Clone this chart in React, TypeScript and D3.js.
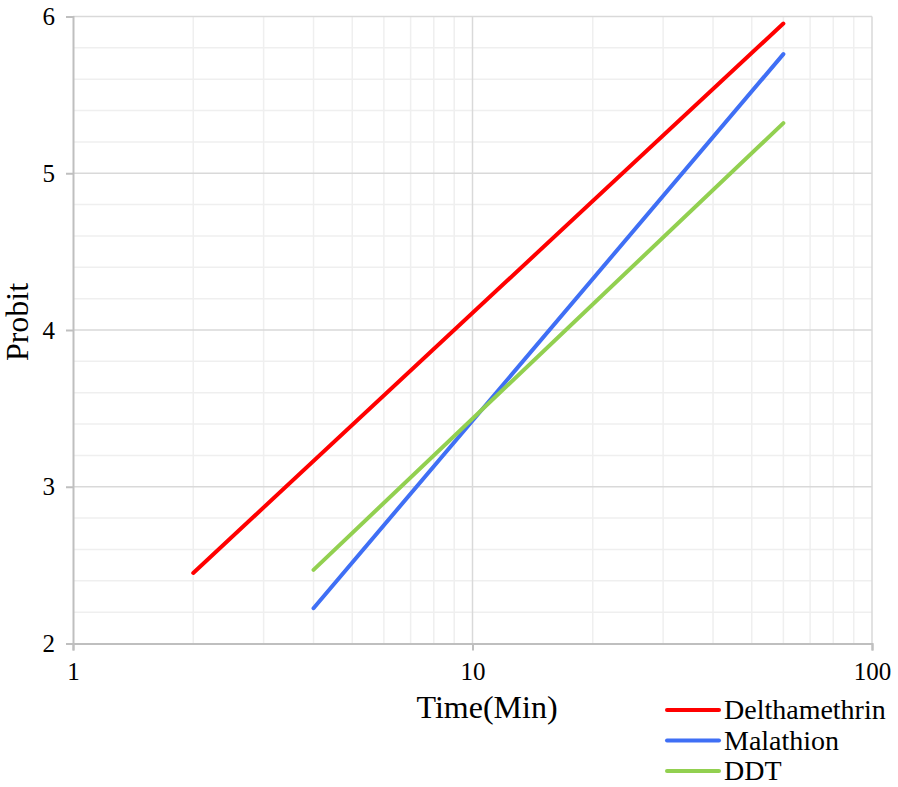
import React, { useEffect, useRef } from "react";
import * as d3 from "d3";

// time (min) endpoints of each fitted probit line
const delthaTime = [2, 60];
const delthaProbit = [2.45, 5.955];
const malaTime = [4, 60];
const malaProbit = [2.225, 5.76];
const ddtTime = [4, 60];
const ddtProbit = [2.47, 5.32];

const seriesNames = ["Delthamethrin", "Malathion", "DDT"];
const seriesColors = ["#ff0000", "#3f6ff5", "#92d050"];
const xTicks = [1, 10, 100];
const yTicks = [2, 3, 4, 5, 6];

const App = () => {
  const svgRef = useRef<SVGSVGElement>(null);

  useEffect(() => {
    const svg = d3.select(svgRef.current);
    svg.selectAll("*").remove();

    const left = 73;
    const right = 872;
    const top = 16.5;
    const bottom = 643.5;

    const x = d3.scaleLog().domain([1, 100]).range([left, right]);
    const y = d3.scaleLinear().domain([2, 6]).range([bottom, top]);
    const font = "'Liberation Serif', 'Times New Roman', serif";

    // minor grid
    const minorX: number[] = [];
    [1, 10].forEach((d) => {
      for (let k = 2; k <= 9; k++) minorX.push(d * k);
    });
    const minorY = d3.range(2.2, 6, 0.2).filter((v) => Math.abs(v - Math.round(v)) > 0.01);

    const grid = svg.append("g");
    grid
      .selectAll(".mx")
      .data(minorX)
      .enter()
      .append("line")
      .attr("x1", (d) => x(d))
      .attr("x2", (d) => x(d))
      .attr("y1", top)
      .attr("y2", bottom)
      .attr("stroke", "#efefef")
      .attr("stroke-width", 1.5);
    grid
      .selectAll(".my")
      .data(minorY)
      .enter()
      .append("line")
      .attr("x1", left)
      .attr("x2", right)
      .attr("y1", (d) => y(d))
      .attr("y2", (d) => y(d))
      .attr("stroke", "#efefef")
      .attr("stroke-width", 1.5);

    // major grid
    grid
      .selectAll(".Mx")
      .data([10, 100])
      .enter()
      .append("line")
      .attr("x1", (d) => x(d))
      .attr("x2", (d) => x(d))
      .attr("y1", top)
      .attr("y2", bottom)
      .attr("stroke", "#d9d9d9")
      .attr("stroke-width", 1.5);
    grid
      .selectAll(".My")
      .data(yTicks.slice(1))
      .enter()
      .append("line")
      .attr("x1", left)
      .attr("x2", right)
      .attr("y1", (d) => y(d))
      .attr("y2", (d) => y(d))
      .attr("stroke", "#d9d9d9")
      .attr("stroke-width", 1.5);

    // x axis
    const xAxis = svg
      .append("g")
      .attr("transform", `translate(0,${bottom})`)
      .call(d3.axisBottom(x).tickValues(xTicks).tickFormat(d3.format("d")).tickSize(7).tickPadding(12))
      .attr("font-family", font)
      .attr("font-size", 25);
    xAxis.select(".domain").attr("stroke", "#bfbfbf").attr("stroke-width", 2);
    xAxis.selectAll(".tick line").attr("stroke", "#bfbfbf").attr("stroke-width", 2);
    xAxis.selectAll(".tick text").attr("fill", "#000");

    // y axis
    const yAxis = svg
      .append("g")
      .attr("transform", `translate(${left},0)`)
      .call(d3.axisLeft(y).tickValues(yTicks).tickFormat(d3.format("d")).tickSize(7).tickPadding(11))
      .attr("font-family", font)
      .attr("font-size", 25);
    yAxis.select(".domain").attr("stroke", "#bfbfbf").attr("stroke-width", 2);
    yAxis.selectAll(".tick line").attr("stroke", "#bfbfbf").attr("stroke-width", 2);
    yAxis.selectAll(".tick text").attr("fill", "#000");

    // lines
    const series = [
      { t: delthaTime, p: delthaProbit },
      { t: malaTime, p: malaProbit },
      { t: ddtTime, p: ddtProbit },
    ];
    const line = d3
      .line<[number, number]>()
      .x((d) => x(d[0]))
      .y((d) => y(d[1]));
    series.forEach((s, i) => {
      const pts = s.t.map((t, j) => [t, s.p[j]] as [number, number]);
      svg
        .append("path")
        .attr("d", line(pts))
        .attr("fill", "none")
        .attr("stroke", seriesColors[i])
        .attr("stroke-width", 4)
        .attr("stroke-linecap", "round");
    });

    // axis titles
    svg
      .append("text")
      .attr("x", 487)
      .attr("y", 718)
      .attr("text-anchor", "middle")
      .attr("font-family", font)
      .attr("font-size", 32)
      .text("Time(Min)");
    svg
      .append("text")
      .attr("transform", "rotate(-90)")
      .attr("x", -322)
      .attr("y", 28)
      .attr("text-anchor", "middle")
      .attr("font-family", font)
      .attr("font-size", 32)
      .text("Probit");

    // legend
    const legend = svg.append("g").attr("font-family", font).attr("font-size", 28);
    seriesNames.forEach((name, i) => {
      const ly = 710 + i * 30.5;
      legend
        .append("line")
        .attr("x1", 667)
        .attr("x2", 719)
        .attr("y1", ly)
        .attr("y2", ly)
        .attr("stroke", seriesColors[i])
        .attr("stroke-width", 4)
        .attr("stroke-linecap", "round");
      legend
        .append("text")
        .attr("x", 724)
        .attr("y", ly + 9)
        .text(name);
    });
  }, []);

  return (
    <svg
      ref={svgRef}
      width={898}
      height={787}
      style={{ position: "absolute", left: 0, top: 0, background: "#fff" }}
    ></svg>
  );
};

export default App;
